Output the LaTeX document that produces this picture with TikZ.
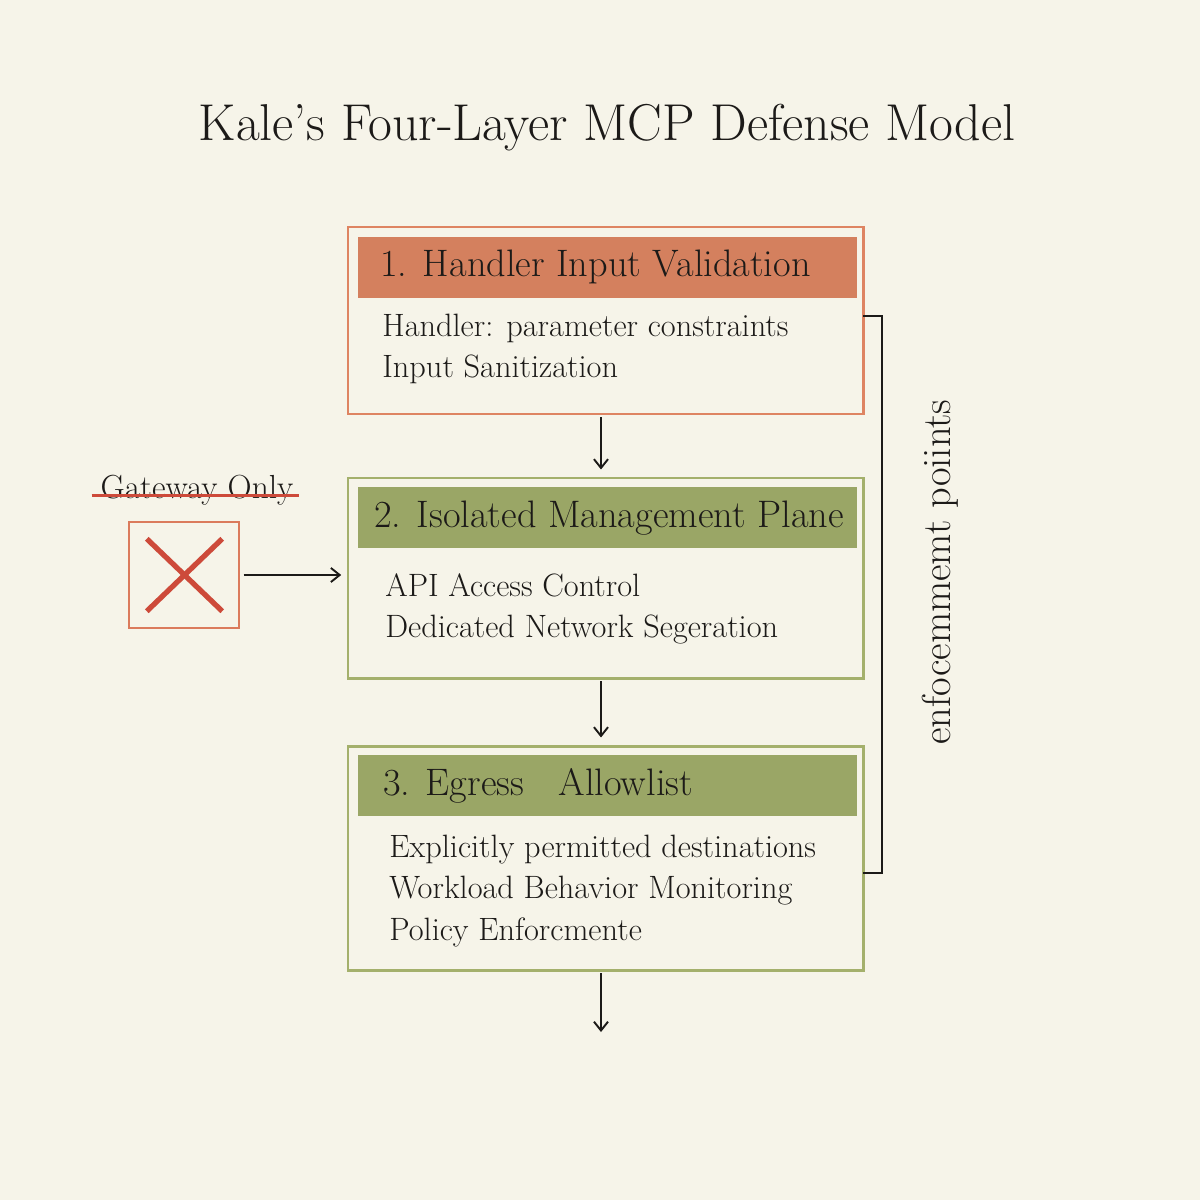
\documentclass[tikz,border=0pt]{standalone}
\usepackage{tikz}
\usetikzlibrary{arrows.meta, positioning, calc}
\usepackage{xcolor}
\definecolor{paper}{RGB}{246,244,233}
\definecolor{inkdark}{RGB}{28,26,24}
\definecolor{clayorange}{RGB}{222,132,98}
\definecolor{clayfill}{RGB}{212,128,94}
\definecolor{olivegreen}{RGB}{164,176,108}
\definecolor{olivefill}{RGB}{154,166,102}
\definecolor{crossred}{RGB}{205,74,58}

\begin{document}
\begin{tikzpicture}[
    x=0.02cm, y=-0.02cm,
    layer/.style={rectangle, draw=#1, line width=1.7pt, fill=paper,
                  minimum width=515*0.02cm, inner sep=0pt},
    band/.style={rectangle, fill=#1, minimum width=499*0.02cm,
                 minimum height=61*0.02cm, inner sep=0pt},
    head/.style={font=\fontsize{21.8}{26}\selectfont, text=inkdark, anchor=west, inner sep=0pt},
    body/.style={font=\fontsize{18.4}{23.4}\selectfont, text=inkdark, align=left, anchor=west, inner sep=0pt},
    arr/.style={-{Straight Barb[length=5pt, width=8pt]}, line width=1.1pt, inkdark, #1},
]
    \useasboundingbox[fill=paper] (0,0) rectangle (1200,1200);

    % Title
    \node[font=\fontsize{29.5}{34}\selectfont, text=inkdark] (title) at (607,128)
        {Kale's Four-Layer MCP Defense Model};

    % Layer 1: handler
    \node[layer=clayorange, minimum height=187*0.02cm] (valid) at (605.5,320.5) {};
    \node[band=clayfill] (validhd) at (607.5,267) {};
    \node[head] (validtx) at (380,267) {1. Handler Input Validation};
    \node[body] (validbd) at (382,349) {Handler: parameter constraints\\Input Sanitization};

    % Layer 2: management plane
    \node[layer=olivegreen, minimum height=200*0.02cm] (mgmt) at (605.5,578) {};
    \node[band=olivefill] (mgmthd) at (607.5,517.5) {};
    \node[head] (mgmttx) at (374,518) {2. Isolated Management Plane};
    \node[body] (mgmtbd) at (385,609) {API Access Control\\Dedicated Network Segeration};

    % Layer 3: egress
    \node[layer=olivegreen, minimum height=224*0.02cm] (egress) at (605.5,858) {};
    \node[band=olivefill] (egresshd) at (607.5,785.5) {};
    \node[head] (egresstx) at (383,786) {3. Egress\hspace{0.9em}Allowlist};
    \node[body] (egressbd) at (389,891) {Explicitly permitted destinations\\Workload Behavior Monitoring\\Policy Enforcmente};

    % Flow between layers
    \coordinate (out) at (601,1032);
    \draw[arr] ([xshift=-4.5*0.02cm, yshift=-1pt]valid.south) -- ([xshift=-4.5*0.02cm, yshift=4pt]mgmt.north);
    \draw[arr] ([xshift=-4.5*0.02cm, yshift=-1pt]mgmt.south) -- ([xshift=-4.5*0.02cm, yshift=4pt]egress.north);
    \draw[arr] ([xshift=-4.5*0.02cm, yshift=-1pt]egress.south) -- (out);

    % Enforcement bracket
    \coordinate (brtop) at (863,316);
    \coordinate (brbot) at (863,873);
    \draw[line width=1.2pt, inkdark] (brtop) -- ++(19,0) |- (brbot);
    \node[rotate=90, font=\fontsize{23}{26}\selectfont, text=inkdark] (enforce) at (940,572)
        {enfocemmemt poiints};

    % Rejected gateway-only option
    \node[font=\fontsize{19}{22}\selectfont, text=inkdark, inner sep=0pt] (gateway) at (197,490) {Gateway Only};
    \draw[line width=1.5pt, crossred] ([xshift=-5pt, yshift=-3pt]gateway.west) -- ([xshift=3pt, yshift=-3pt]gateway.east);
    \node[rectangle, draw=clayorange!85!crossred, line width=1.4pt, fill=paper,
          minimum width=110*0.02cm, minimum height=106*0.02cm, inner sep=0pt] (xbox) at (184,575) {};
    \draw[line width=3pt, crossred] ($(xbox.north west)+(19,18)$) -- ($(xbox.south east)+(-18,-18)$);
    \draw[line width=3pt, crossred] ($(xbox.north east)+(-18,18)$) -- ($(xbox.south west)+(19,-18)$);
    \draw[arr] ([xshift=2pt]xbox.east) -- ([xshift=-3pt]xbox.east -| mgmt.west);
\end{tikzpicture}
\end{document}
